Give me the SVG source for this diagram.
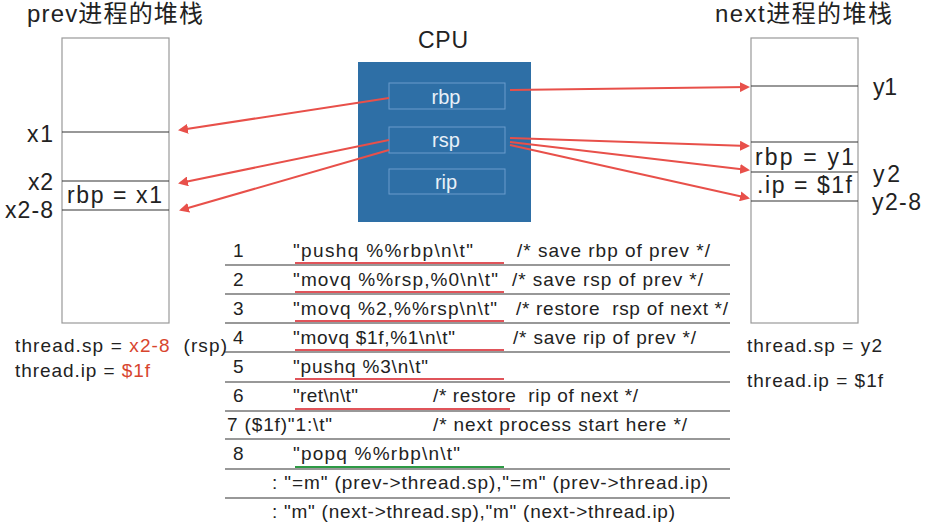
<svg xmlns="http://www.w3.org/2000/svg" width="926" height="530" viewBox="0 0 926 530">
<style>
text{font-family:"Liberation Sans","Noto Sans CJK SC",sans-serif;fill:#222;white-space:pre}
.t{font-size:24px}
.l{font-size:23px}
.c{font-size:19px}
.reg{font-size:20px;fill:#e8f0f8}
.stk{fill:#fff;stroke:#999;stroke-width:1.2}
.sl{stroke:#333;stroke-width:1.2}
.row{stroke:#333;stroke-width:1.2}
.ul{stroke:#e0545a;stroke-width:2}
.ug{stroke:#2e9a45;stroke-width:2}
.arr{stroke:#e8504a;stroke-width:2;fill:none;marker-end:url(#ah)}
.red{fill:#d8452e}
.rb{fill:none;stroke:#6a9ccc;stroke-width:1}
</style>
<defs>
<marker id="ah" markerWidth="10" markerHeight="10" refX="8" refY="5" orient="auto" markerUnits="userSpaceOnUse">
<path d="M0,0 L10,5 L0,10 z" fill="#e8504a"/>
</marker>
</defs>
<g id="prev-stack">
<text class="t" x="27" y="22" textLength="176">prev进程的堆栈</text>
<rect class="stk" x="62" y="38" width="107" height="285"/>
<line class="sl" x1="62" y1="132" x2="169" y2="132"/>
<line class="sl" x1="62" y1="181" x2="169" y2="181"/>
<line class="sl" x1="62" y1="210" x2="169" y2="210"/>
<text class="l" x="27" y="142" textLength="26">x1</text>
<text class="l" x="28" y="190" textLength="25">x2</text>
<text class="l" x="5" y="218" textLength="48">x2-8</text>
<text class="l" x="67" y="203" textLength="95">rbp = x1</text>
<text class="c" x="15" y="352" textLength="212">thread.sp = <tspan class="red">x2-8</tspan>  (rsp)</text>
<text class="c" x="15" y="377" textLength="135">thread.ip = <tspan class="red">$1f</tspan></text>
</g>
<g id="cpu">
<text class="l" x="443" y="48" text-anchor="middle" textLength="50">CPU</text>
<rect x="358" y="62" width="173" height="160" fill="#2e6fa6"/>
<rect class="rb" x="389" y="83" width="116" height="26"/>
<rect class="rb" x="389" y="127" width="116" height="26"/>
<rect class="rb" x="389" y="169" width="116" height="25"/>
<text class="reg" x="446" y="104" text-anchor="middle">rbp</text>
<text class="reg" x="446" y="147" text-anchor="middle">rsp</text>
<text class="reg" x="446" y="189" text-anchor="middle">rip</text>
</g>
<g id="next-stack">
<text class="t" x="715" y="22" textLength="177">next进程的堆栈</text>
<rect class="stk" x="751" y="38" width="107" height="285"/>
<line class="sl" x1="751" y1="86" x2="858" y2="86"/>
<line class="sl" x1="751" y1="142" x2="858" y2="142"/>
<line class="sl" x1="751" y1="172" x2="858" y2="172"/>
<line class="sl" x1="751" y1="201" x2="858" y2="201"/>
<text class="l" x="873" y="95" textLength="24">y1</text>
<text class="l" x="873" y="182" textLength="27">y2</text>
<text class="l" x="872" y="210" textLength="49">y2-8</text>
<text class="l" x="755" y="165" textLength="99">rbp = y1</text>
<text class="l" x="757" y="193" textLength="95">.ip = $1f</text>
<text class="c" x="747" y="352" textLength="135">thread.sp = y2</text>
<text class="c" x="747" y="387" textLength="136">thread.ip = $1f</text>
</g>
<g id="code">
<g class="rows">
<line class="row" x1="225" y1="265" x2="730" y2="265"/>
<line class="row" x1="225" y1="294" x2="730" y2="294"/>
<line class="row" x1="225" y1="323" x2="730" y2="323"/>
<line class="row" x1="225" y1="352" x2="730" y2="352"/>
<line class="row" x1="225" y1="382" x2="730" y2="382"/>
<line class="row" x1="225" y1="411" x2="730" y2="411"/>
<line class="row" x1="225" y1="439" x2="730" y2="439"/>
<line class="row" x1="225" y1="469" x2="730" y2="469"/>
<line class="row" x1="225" y1="498" x2="730" y2="498"/>
</g>
<line class="ul" x1="295" y1="263" x2="504" y2="263"/>
<line class="ul" x1="295" y1="292" x2="504" y2="292"/>
<line class="ul" x1="295" y1="321" x2="504" y2="321"/>
<line class="ul" x1="295" y1="350" x2="504" y2="350"/>
<line class="ul" x1="295" y1="379" x2="504" y2="379"/>
<line class="ul" x1="295" y1="409" x2="510" y2="409"/>
<line class="ug" x1="295" y1="467" x2="504" y2="467"/>
<text class="c" x="233" y="257">1</text>
<text class="c" x="293" y="257" textLength="180">"pushq %%rbp\n\t"</text>
<text class="c" x="517" y="257" textLength="193">/* save rbp of prev */</text>
<text class="c" x="233" y="286">2</text>
<text class="c" x="293" y="286" textLength="205">"movq %%rsp,%0\n\t"</text>
<text class="c" x="512" y="286" textLength="191">/* save rsp of prev */</text>
<text class="c" x="233" y="315">3</text>
<text class="c" x="293" y="315" textLength="204">"movq %2,%%rsp\n\t"</text>
<text class="c" x="516" y="315" textLength="212">/* restore  rsp of next */</text>
<text class="c" x="233" y="344">4</text>
<text class="c" x="293" y="344" textLength="162">"movq $1f,%1\n\t"</text>
<text class="c" x="513" y="344" textLength="183">/* save rip of prev */</text>
<text class="c" x="233" y="373">5</text>
<text class="c" x="293" y="373" textLength="135">"pushq %3\n\t"</text>
<text class="c" x="233" y="402">6</text>
<text class="c" x="293" y="402" textLength="65">"ret\n\t"</text>
<text class="c" x="433" y="402" textLength="205">/* restore  rip of next */</text>
<text class="c" x="227" y="431" textLength="105">7 ($1f)"1:\t"</text>
<text class="c" x="433" y="431" textLength="254">/* next process start here */</text>
<text class="c" x="233" y="460">8</text>
<text class="c" x="293" y="460" textLength="167">"popq %%rbp\n\t"</text>
<text class="c" x="272" y="489" textLength="436">: "=m" (prev-&gt;thread.sp),"=m" (prev-&gt;thread.ip)</text>
<text class="c" x="272" y="518" textLength="403">: "m" (next-&gt;thread.sp),"m" (next-&gt;thread.ip)</text>
</g>
<g id="connectors">
<line class="arr" x1="389" y1="98" x2="180" y2="130"/>
<line class="arr" x1="389" y1="140" x2="180" y2="183"/>
<line class="arr" x1="389" y1="150" x2="181" y2="210"/>
<line class="arr" x1="510" y1="90" x2="748" y2="87"/>
<line class="arr" x1="510" y1="138" x2="748" y2="146"/>
<line class="arr" x1="510" y1="142" x2="748" y2="170"/>
<line class="arr" x1="510" y1="145" x2="748" y2="198"/>
</g>
</svg>
